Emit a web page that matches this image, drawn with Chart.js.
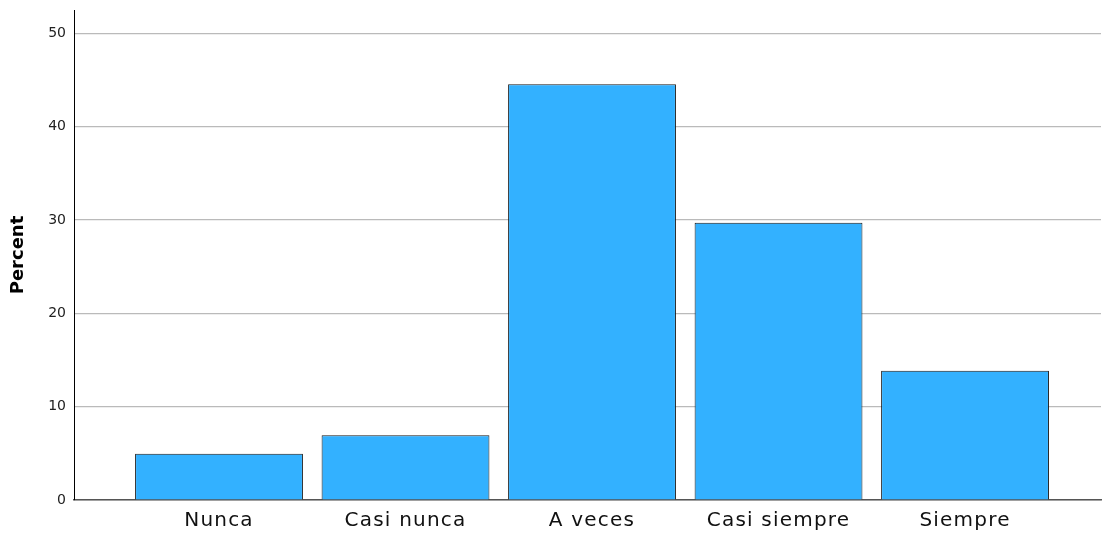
<!DOCTYPE html>
<html lang="es">
<head>
  <meta charset="UTF-8" />
  <title>Percent</title>
  <script src="https://cdn.jsdelivr.net/npm/chart.js"></script>
  <style>
    html, body { margin: 0; padding: 0; background: #fff; }
    #wrap { width: 1102px; height: 533px; }
  </style>
</head>
<body>
  <div id="wrap"><canvas id="barChart" width="1102" height="533"></canvas></div>

  <script>
    const categories = ["Nunca", "Casi nunca", "A veces", "Casi siempre", "Siempre"];
    const percents = [4.95, 6.93, 44.55, 29.70, 13.86];
    const yTicks = [0, 10, 20, 30, 40, 50];

    const points = categories.map((c, i) => ({ x: i, y: percents[i] }));

    // wider tracking for the category labels, like the original
    const spacedLabels = {
      id: "spacedLabels",
      afterLayout(chart) {
        const s = chart.scales.x;
        if (s._spaced) return;
        const orig = s.drawLabels.bind(s);
        s.drawLabels = function (area) {
          const ctx = this.ctx;
          ctx.save();
          ctx.letterSpacing = "1.2px";
          orig(area);
          ctx.restore();
        };
        s._spaced = true;
      }
    };

    new Chart(document.getElementById("barChart"), {
      type: "bar",
      data: {
        datasets: [{
          label: "Percent",
          data: points,
          backgroundColor: "#33b1ff",
          borderColor: "#1a1a1a",
          borderWidth: 1,
          categoryPercentage: 1,
          barPercentage: 0.9
        }]
      },
      options: {
        responsive: false,
        animation: false,
        layout: { padding: { top: 10, right: 1, left: 0, bottom: 0 } },
        plugins: { legend: { display: false }, tooltip: { enabled: false } },
        scales: {
          x: {
            type: "linear",
            offset: false,
            min: -0.7775,
            max: 4.729,
            grid: { display: false, drawTicks: false },
            border: { color: "#555", width: 1.5 },
            afterBuildTicks: s => { s.ticks = categories.map((c, i) => ({ value: i })); },
            afterFit: s => { s.height = 33; s.paddingLeft = 0; s.paddingRight = 0; },
            ticks: {
              padding: 9,
              color: "#111",
              autoSkip: false,
              maxRotation: 0,
              font: { family: "DejaVu Sans", size: 20 },
              callback: v => categories[v]
            }
          },
          y: {
            min: 0,
            max: 52.5,
            grid: { color: "#bababa", lineWidth: 1.2, drawTicks: false },
            border: { color: "#000", width: 1 },
            afterBuildTicks: s => { s.ticks = yTicks.map(v => ({ value: v })); },
            afterFit: s => { s.width = 74; s.paddingTop = 0; s.paddingBottom = 0; },
            ticks: {
              padding: 8,
              color: "#222",
              font: { family: "DejaVu Sans", size: 14 }
            },
            title: {
              display: true,
              text: "Percent",
              color: "#000",
              padding: { top: 8, bottom: 0 },
              font: { family: "DejaVu Sans", size: 18, weight: "bold" }
            }
          }
        }
      },
      plugins: [spacedLabels]
    });
  </script>
</body>
</html>
